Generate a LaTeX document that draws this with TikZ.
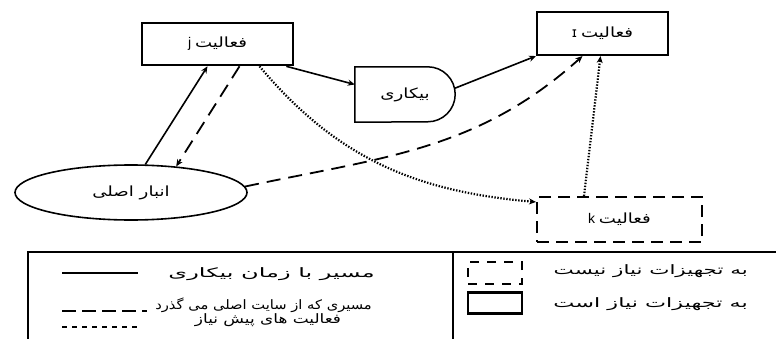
\documentclass[tikz,border=0pt]{standalone}
\usepackage{graphicx}
\usepackage{fontspec}
\setmainfont{Liberation Sans}
\newfontfamily\fa[Script=Arabic,FakeStretch=1.3]{DejaVu Sans}
\newfontfamily\fal[Script=Arabic]{DejaVu Sans}
\newfontfamily\dv{DejaVu Sans}
\TeXXeTstate=1
\usetikzlibrary{shapes.geometric,arrows.meta,calc}
\begin{document}
\begin{tikzpicture}[x=1pt,y=1pt,
  lab/.style={font=\fontsize{14}{16}\selectfont},
  actbox/.style={draw, inner sep=0pt, lab},
  dashbox/.style={draw, line width=2pt, dash pattern=on 12pt off 7pt, inner sep=0pt, lab},
  tip/.style={-{Stealth[length=7pt,width=6pt]}},
  solidline/.style={line width=1.6pt},
  dashline/.style={line width=1.8pt, dash pattern=on 14pt off 8pt},
  dotline/.style={line width=2.2pt, dash pattern=on 1.4pt off 1.6pt},
  legtext/.style={font=\fontsize{13}{15}\selectfont, inner sep=0pt}
]
\clip (0,0) rectangle (776,338);
% nodes
\node[actbox, line width=2.6pt, minimum width=151pt, minimum height=42pt] (j) at (217.5,294) {j\ {\fa\beginR فعالیت\endR}};
\node[actbox, line width=2.1pt, minimum width=131pt, minimum height=43pt] (r) at (602.5,304.5) {{\dv ɪ}\ {\fa\beginR فعالیت\endR}};
\node[dashbox, minimum width=165pt, minimum height=45pt] (k) at (619.5,118.5) {k\ {\fa\beginR فعالیت\endR}};
\node[lab, minimum width=100pt, minimum height=55pt, inner sep=0pt] (idle) at (405,243.5) {\fa\beginR بیکاری\endR};
\draw[line width=1.5pt] (idle.north west) -- ($(idle.north east)+(-27.5,0)$)
  arc[start angle=90,end angle=-90,radius=27.5] -- (idle.south west) -- cycle;
\node[ellipse, draw, line width=1.6pt, minimum width=232pt, minimum height=55pt, inner sep=0pt, lab] (ell) at (131,145.5) {\fa\beginR انبار اصلی\endR};
% connectors
\draw[solidline, tip] (ell.63) -- ($(j.south)+(-10,0)$);
\draw[dashline, tip] ($(j.south)+(22,0)$) -- (ell.30);
\draw[solidline, tip] ($(j.south east)+(-8,0)$) -- ($(idle.west)+(0,10)$);
\draw[solidline, tip] ($(idle.east)+(-1,6)$) -- (r.south west);
\draw[dashline, tip] (ell.3) to[out=12,in=222] ($(r.south)+(-20,0)$);
\draw[dotline, tip] ($(j.south)+(42,0)$) to[out=-50,in=175] ($(k.north west)+(0,-6)$);
\draw[dotline, tip] ($(k.north west)+(48,0)$) -- ($(r.south)+(-2,0)$);
% legend
\coordinate (lgtl) at (28,86);
\coordinate (lgdiv) at (453,86);
\draw[line width=2.2pt] (lgtl) rectangle (790,-20);
\draw[line width=2.2pt] (lgdiv) -- (453,-20);
\coordinate (l1a) at (62,65); \coordinate (l1b) at (138,65);
\draw[line width=1.8pt] (l1a) -- (l1b);
\node[legtext, anchor=east] (t1) at (375,64) {\scalebox{1.85}[1]{\fal\beginR مسیر با زمان بیکاری\endR}};
\coordinate (l2a) at (62,27); \coordinate (l2b) at (147,27);
\draw[line width=2.4pt, dash pattern=on 14pt off 6pt] (l2a) -- (l2b);
\node[legtext, anchor=east] (t2) at (372,33) {\scalebox{1.13}[1]{\fal\beginR مسیری که از سایت اصلی می گذرد\endR}};
\coordinate (l3a) at (62,11); \coordinate (l3b) at (140,11);
\draw[line width=2.4pt, dash pattern=on 5pt off 5pt] (l3a) -- (l3b);
\node[legtext] (t3) at (268,18) {\scalebox{1.3}[1]{\fal\beginR فعالیت های پیش نیاز\endR}};
\node[draw, line width=2.2pt, dash pattern=on 9pt off 8pt, minimum width=54pt, minimum height=22pt, inner sep=0pt] (i1) at (495,65) {};
\node[draw, line width=2.2pt, minimum width=54pt, minimum height=21pt, inner sep=0pt] (i2) at (495,35) {};
\node[legtext, anchor=east] (t4) at (748,67) {\scalebox{1.65}[1]{\fal\beginR به تجهیزات نیاز نیست\endR}};
\node[legtext, anchor=east] (t5) at (748,34) {\scalebox{1.72}[1]{\fal\beginR به تجهیزات نیاز است\endR}};
\end{tikzpicture}
\end{document}
